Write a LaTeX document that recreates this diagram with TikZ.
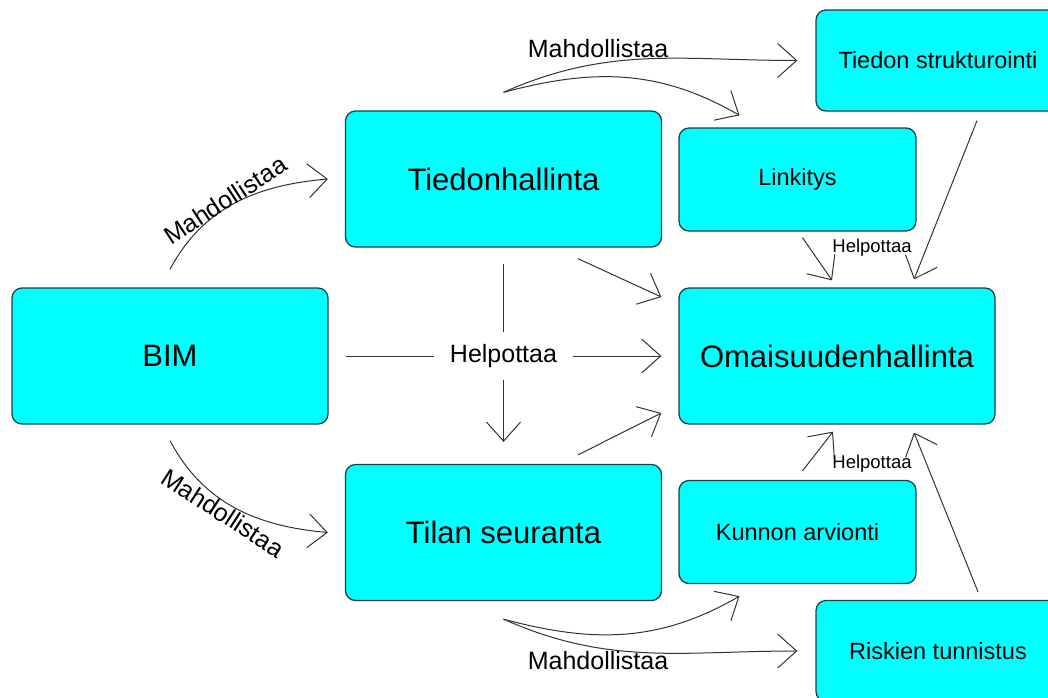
\documentclass[tikz,border=0pt]{standalone}
\usepackage{fontspec}
\setmainfont{Liberation Sans}
\usetikzlibrary{arrows.meta}
\definecolor{BoxCyan}{RGB}{0,255,255}
\definecolor{BoxEdge}{RGB}{25,65,70}
\definecolor{LinkGray}{RGB}{50,50,50}

\begin{document}
\begin{tikzpicture}[x=1pt,y=1pt,
  box/.style={draw=BoxEdge,line width=1.3pt,fill=BoxCyan,rounded corners=10pt,
    align=center,inner sep=0pt},
  bigbox/.style={box,minimum width=316pt,minimum height=136pt,
    font=\fontsize{31}{36}\selectfont},
  midbox/.style={box,minimum width=237pt,minimum height=103pt,
    font=\fontsize{23.5}{28}\selectfont},
  sidebox/.style={box,minimum width=244pt,minimum height=101pt,
    font=\fontsize{23.5}{28}\selectfont},
  lab/.style={font=\fontsize{25}{30}\selectfont,inner sep=0pt},
  smalllab/.style={font=\fontsize{18.5}{22}\selectfont,inner sep=0pt},
  seg/.style={draw=LinkGray,line width=1pt},
  arr/.style={seg,-{Straight Barb[length=19pt,width=34pt]}}]
  \useasboundingbox (0,0) rectangle (1048,-697);

  \node[bigbox] (bim) at (170,-356) {BIM};
  \node[bigbox] (tied) at (503.5,-179) {Tiedonhallinta};
  \node[bigbox] (tilan) at (503.5,-532.5) {Tilan seuranta};
  \node[bigbox] (omai) at (837,-356) {Omaisuudenhallinta};
  \node[midbox] (link) at (797.5,-179.5) {Linkitys};
  \node[midbox] (kunnon) at (797.5,-532) {Kunnon arvionti};
  \node[sidebox] (strukt) at (938,-60.5) {Tiedon strukturointi};
  \node[sidebox] (risk) at (938,-651) {Riskien tunnistus};

  % BIM mahdollistaa
  \draw[arr] ([shift={(0,18)}]bim.north) to[out=62,in=185] ([shift={(-17,0)}]tied.west);
  \node[lab,rotate=33] (mahdup) at (225,-200) {Mahdollistaa};
  \draw[arr] ([shift={(0,-16)}]bim.south) to[out=-62,in=175] ([shift={(-17,0)}]tilan.west);
  \node[lab,rotate=-33] (mahddown) at (223,-513) {Mahdollistaa};

  % Tiedonhallinta / Tilan seuranta mahdollistaa
  \draw[arr] ([shift={(0,18)}]tied.north) to[out=24,in=180] ([shift={(-18,0)}]strukt.west);
  \draw[arr] ([shift={(0,18)}]tied.north) to[out=15,in=150] ([shift={(-58,12)}]link.north);
  \node[lab] (mahdtop) at (598,-49) {Mahdollistaa};
  \draw[arr] ([shift={(0,-18)}]tilan.south) to[out=-24,in=180] ([shift={(-18,0)}]risk.west);
  \draw[arr] ([shift={(0,-18)}]tilan.south) to[out=-15,in=-150] ([shift={(-58,-12)}]kunnon.south);
  \node[lab] (mahdbot) at (598,-661) {Mahdollistaa};

  % keskimmainen helpottaa
  \node[lab,inner xsep=16pt,minimum height=48pt] (helpmid) at (503.5,-356) {Helpottaa};
  \draw[seg,shorten <=17pt] (bim.east) -- (helpmid.west);
  \draw[arr,shorten >=17pt] (helpmid.east) -- (omai.west);
  \draw[seg,shorten <=16pt] (tied.south) -- (helpmid.north);
  \draw[arr,shorten >=22pt] (helpmid.south) -- (tilan.north);
  \draw[arr] ([shift={(74.5,-11)}]tied.south) -- ([shift={(-17,59)}]omai.west);
  \draw[arr] ([shift={(74.5,9)}]tilan.north) -- ([shift={(-17,-57)}]omai.west);

  % pienet helpottaa
  \draw[arr] ([shift={(5,-6)}]link.south) -- ([shift={(-5,7)}]omai.north);
  \draw[arr] ([shift={(39,-9)}]strukt.south) -- ([shift={(77,8)}]omai.north);
  \node[smalllab] (helptop) at (872,-248) {Helpottaa};
  \draw[arr] ([shift={(5,9)}]kunnon.north) -- ([shift={(-4,-7)}]omai.south);
  \draw[arr] ([shift={(40,8)}]risk.north) -- ([shift={(77,-8)}]omai.south);
  \node[smalllab] (helpbot) at (872,-464) {Helpottaa};
\end{tikzpicture}
\end{document}
